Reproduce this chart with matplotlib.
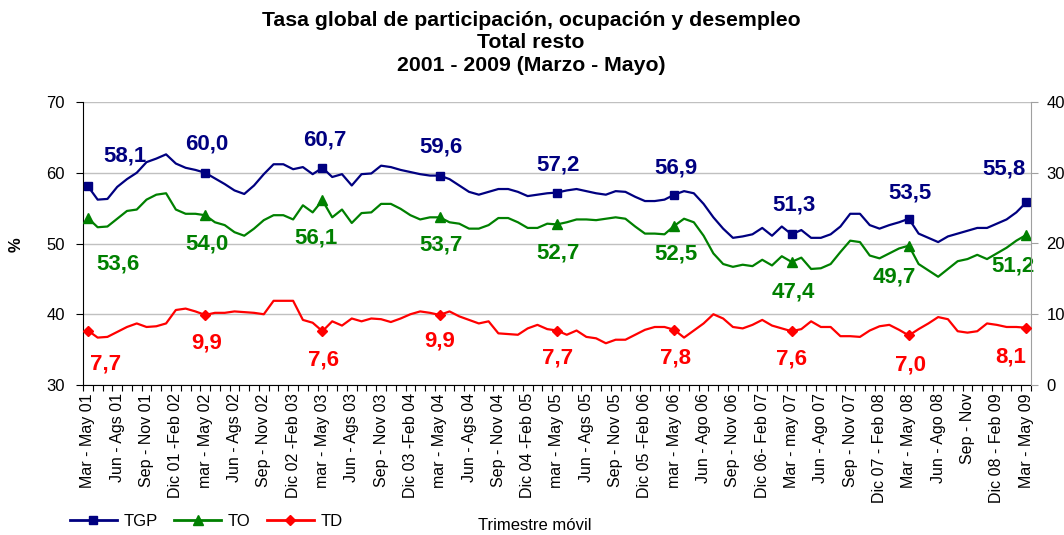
import matplotlib
matplotlib.use("Agg")
import matplotlib.pyplot as plt
from matplotlib.lines import Line2D
import numpy as np

plt.rcParams['font.family'] = ['Liberation Sans', 'DejaVu Sans']

# ---------------- data ----------------
tick_labels = [
    "Mar - May 01", "Jun - Ags 01", "Sep - Nov 01", "Dic 01 -Feb 02",
    "mar - May 02", "Jun - Ags 02", "Sep - Nov 02", "Dic 02 -Feb 03",
    "mar - May 03", "Jun - Ags 03", "Sep - Nov 03", "Dic 03 -Feb 04",
    "mar - May 04", "Jun - Ags 04", "Sep - Nov 04", "Dic 04 -Feb 05",
    "mar - May 05", "Jun - Ags 05", "Sep - Nov 05", "Dic 05 -Feb 06",
    "mar - May 06", "Jun - Ago 06", "Sep - Nov 06", "Dic 06- Feb 07",
    "Mar - may 07", "Jun - Ago 07", "Sep - Nov 07", "Dic 07 - Feb 08",
    "Mar - May 08", "Jun - Ago 08", "Sep - Nov", "Dic 08 - Feb 09",
    "Mar - May 09",
]

tgp = [58.1, 56.2, 56.3, 58.0, 59.1, 60.0, 61.5, 62.0, 62.6, 61.3,
       60.7, 60.4, 60.0, 59.2, 58.4, 57.5, 57.0, 58.2, 59.8, 61.2,
       61.2, 60.5, 60.8, 59.8, 60.7, 59.4, 59.8, 58.2, 59.8, 59.9,
       61.0, 60.8, 60.4, 60.1, 59.8, 59.6, 59.6, 59.1, 58.2, 57.3,
       56.9, 57.3, 57.7, 57.7, 57.3, 56.7, 56.9, 57.1, 57.2, 57.5,
       57.7, 57.4, 57.1, 56.9, 57.4, 57.3, 56.6, 56.0, 56.0, 56.2,
       56.9, 57.4, 57.1, 55.6, 53.7, 52.1, 50.8, 51.0, 51.3, 52.2,
       51.1, 52.4, 51.3, 51.9, 50.8, 50.8, 51.3, 52.4, 54.2, 54.2,
       52.6, 52.1, 52.6, 53.0, 53.5, 51.4, 50.8, 50.2, 51.0, 51.4,
       51.8, 52.2, 52.2, 52.8, 53.4, 54.4, 55.8]

to = [53.6, 52.3, 52.4, 53.5, 54.6, 54.8, 56.2, 56.9, 57.1, 54.8,
      54.2, 54.2, 54.0, 53.0, 52.6, 51.6, 51.1, 52.1, 53.3, 54.0,
      54.0, 53.4, 55.4, 54.4, 56.1, 53.7, 54.8, 52.9, 54.3, 54.4,
      55.6, 55.6, 54.9, 54.0, 53.4, 53.7, 53.7, 53.0, 52.8, 52.1,
      52.1, 52.6, 53.6, 53.6, 53.0, 52.2, 52.2, 52.8, 52.7, 53.0,
      53.4, 53.4, 53.3, 53.5, 53.7, 53.5, 52.4, 51.4, 51.4, 51.3,
      52.5, 53.5, 53.0, 51.1, 48.6, 47.1, 46.7, 47.0, 46.8, 47.7,
      46.9, 48.2, 47.4, 48.0, 46.4, 46.5, 47.1, 48.8, 50.4, 50.2,
      48.3, 47.9, 48.6, 49.3, 49.7, 47.1, 46.2, 45.3, 46.4, 47.5,
      47.8, 48.4, 47.8, 48.6, 49.4, 50.4, 51.2]

td = [7.7, 6.7, 6.8, 7.5, 8.2, 8.7, 8.2, 8.3, 8.7, 10.6,
      10.8, 10.4, 9.9, 10.2, 10.2, 10.4, 10.3, 10.2, 10.0, 11.9,
      11.9, 11.9, 9.2, 8.8, 7.6, 9.0, 8.4, 9.4, 9.0, 9.4,
      9.3, 8.9, 9.4, 10.0, 10.4, 10.2, 9.9, 10.4, 9.7, 9.2,
      8.7, 9.0, 7.3, 7.2, 7.1, 8.0, 8.5, 7.9, 7.7, 7.1,
      7.7, 6.8, 6.6, 5.9, 6.4, 6.4, 7.1, 7.8, 8.2, 8.2,
      7.8, 6.7, 7.7, 8.7, 10.0, 9.4, 8.2, 8.0, 8.5, 9.2,
      8.4, 8.0, 7.6, 7.9, 9.0, 8.2, 8.2, 6.9, 6.9, 6.8,
      7.7, 8.3, 8.5, 7.8, 7.0, 7.9, 8.7, 9.6, 9.3, 7.6,
      7.4, 7.6, 8.7, 8.5, 8.2, 8.2, 8.1]

# ---------------- styling / positions ----------------
C_TGP, C_TO, C_TD = "#000080", "#008000", "#FF0000"
marker_step = 12
tick_step = 3

# label offsets (pixels) relative to the marker point
off_tgp = [(37, 30), (2, 29), (2, 28), (1, 29), (1, 28), (2, 27), (2, 29), (1, 26), (-22, 33)]
off_to = [(30, -46), (2, -29), (-6, -38), (1, -28), (1, -29), (2, -28), (2, -30), (-15, -31), (-13, -31)]
off_td = [(18, -33), (2, -28), (1, -29), (0, -26), (1, -27), (1, -28), (0, -28), (2, -30), (-15, -29)]

W, H = 1064, 535
fig = plt.figure(figsize=(W / 100, H / 100), dpi=100)
ax = fig.add_axes([83 / W, 1 - 385 / H, (1031 - 83) / W, (385 - 102) / H])
ax2 = ax.twinx()

x = np.arange(len(tgp))
mk = x[::marker_step]

ax.plot(x, tgp, color=C_TGP, lw=1.6, zorder=3)
ax.plot(mk, np.array(tgp)[mk], ls="none", marker="s", ms=6, color=C_TGP, zorder=4)
ax.plot(x, to, color=C_TO, lw=1.6, zorder=3)
ax.plot(mk, np.array(to)[mk], ls="none", marker="^", ms=6.5, color=C_TO, zorder=4)
ax2.plot(x, td, color=C_TD, lw=1.6, zorder=3)
ax2.plot(mk, np.array(td)[mk], ls="none", marker="D", ms=5, color=C_TD, zorder=4)

def fmt(v):
    return f"{v:.1f}".replace(".", ",")

label_kw = dict(textcoords="offset pixels", ha="center", va="center",
                fontsize=16, fontweight="bold", zorder=5)
for k, i in enumerate(mk):
    ax.annotate(fmt(tgp[i]), (i, tgp[i]), xytext=off_tgp[k], color=C_TGP, **label_kw)
    ax.annotate(fmt(to[i]), (i, to[i]), xytext=off_to[k], color=C_TO, **label_kw)
    ax2.annotate(fmt(td[i]), (i, td[i]), xytext=off_td[k], color=C_TD, **label_kw)

# axes limits & ticks
ax.set_xlim(-0.5, len(tgp) - 0.5)
ax.set_ylim(30, 70)
ax2.set_ylim(0, 40)
ax.set_yticks([30, 40, 50, 60, 70])
ax2.set_yticks([0, 10, 20, 30, 40])

ax.set_xticks(x[::tick_step])
ax.set_xticklabels(tick_labels, rotation=90, fontsize=11.5)
ax.set_xticks(np.arange(-0.5, len(tgp) + 0.5, 1), minor=True)
ax.tick_params(axis="x", which="major", length=0, pad=6)
ax.tick_params(axis="x", which="minor", length=4, direction="out", color="black", width=0.8)
ax.tick_params(axis="y", length=5, direction="out", labelsize=12, pad=8, width=0.8)
ax2.tick_params(axis="y", length=5, direction="out", labelsize=12, pad=6, color="#A0A0A0", width=0.8)

ax.grid(axis="y", color="#C0C0C0", lw=1.0, zorder=0)
ax.set_axisbelow(True)
ax.spines["top"].set_visible(False)
ax2.spines["top"].set_visible(False)
ax.spines["left"].set_color("black")
ax.spines["bottom"].set_color("black")
ax2.spines["left"].set_visible(False)
ax2.spines["bottom"].set_visible(False)
ax2.spines["right"].set_color("#A0A0A0")
ax.spines["right"].set_visible(False)

# title
fig.text(531 / W, 1 - 43 / H,
         "Tasa global de participación, ocupación y desempleo\nTotal resto\n2001 - 2009 (Marzo - Mayo)",
         ha="center", va="center", fontsize=15.3, fontweight="bold", linespacing=1.24)

# y label
fig.text(16 / W, 1 - 245 / H, "%", rotation=90, ha="center", va="center",
         fontsize=12, fontweight="bold")

# x label
fig.text(535 / W, 1 - 525 / H, "Trimestre móvil", ha="center", va="center", fontsize=12)

# legend
handles = [
    Line2D([], [], color=C_TGP, lw=2, marker="s", ms=6),
    Line2D([], [], color=C_TO, lw=2, marker="^", ms=6.5),
    Line2D([], [], color=C_TD, lw=2, marker="D", ms=5),
]
fig.legend(handles, ["TGP", "TO", "TD"], loc="center left",
           bbox_to_anchor=(70 / W, 1 - 521 / H), ncol=3, frameon=False,
           fontsize=12, handlelength=2.8, handletextpad=0.4, columnspacing=1.0,
           borderaxespad=0, borderpad=0)

fig.savefig("out.png", dpi=100)
